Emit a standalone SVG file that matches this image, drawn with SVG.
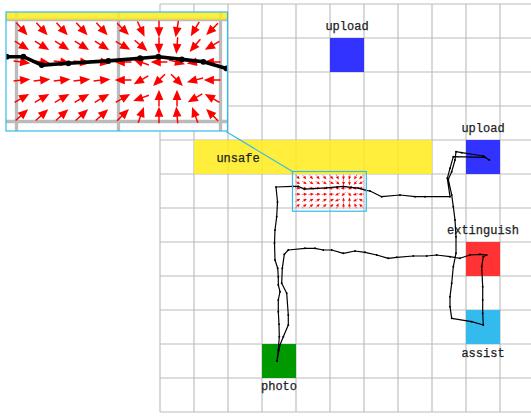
<svg xmlns="http://www.w3.org/2000/svg" xmlns:xlink="http://www.w3.org/1999/xlink" width="531" height="416" viewBox="0 0 531 416">
<style>
.grid{stroke:#bbbbbb;stroke-width:1.1;fill:none}
.lbl{font-family:"Liberation Mono","DejaVu Sans Mono",monospace;font-size:12px;fill:#222;stroke:#222;stroke-width:0.25;text-anchor:middle}
.traj{fill:none;stroke:#000;stroke-width:1.2;stroke-linejoin:round;marker-start:url(#dot);marker-mid:url(#dot);marker-end:url(#dot)}
.cy{fill:none;stroke:#33bbee;stroke-width:1.2}
</style>
<defs>
<marker id="dot" markerWidth="4" markerHeight="4" refX="2" refY="2" markerUnits="userSpaceOnUse"><circle cx="2" cy="2" r="0.95" fill="#000"/></marker>
<g id="a"><path d="M-2.8 0H0" stroke="#ff0000" stroke-width="0.5"/><polygon points="-0.6,-1.45 2.8,0 -0.6,1.45" fill="#ff0000"/></g>
<path id="gridp" class="grid" d="M160 4V412M194 4V412M228 4V412M262 4V412M296 4V412M330 4V412M364 4V412M398 4V412M432 4V412M466 4V412M500 4V412M160 4H531M160 38H531M160 72H531M160 106H531M160 140H531M160 174H531M160 208H531M160 242H531M160 276H531M160 310H531M160 344H531M160 378H531M160 412H531"/>
<rect id="yel" x="194" y="140" width="238" height="34" fill="#ffeb1a" fill-opacity="0.85"/>
<g id="field">
<use xlink:href="#a" transform="translate(297.8 177.2) rotate(48)"/>
<use xlink:href="#a" transform="translate(304.5 177.2) rotate(48)"/>
<use xlink:href="#a" transform="translate(311.2 177.2) rotate(48)"/>
<use xlink:href="#a" transform="translate(317.8 177.2) rotate(48)"/>
<use xlink:href="#a" transform="translate(324.5 177.2) rotate(48)"/>
<use xlink:href="#a" transform="translate(331.5 177.2) rotate(45)"/>
<use xlink:href="#a" transform="translate(337.5 177.2) rotate(65)"/>
<use xlink:href="#a" transform="translate(343.5 177.2) rotate(90)"/>
<use xlink:href="#a" transform="translate(349.5 177.2) rotate(100)"/>
<use xlink:href="#a" transform="translate(355.5 177.2) rotate(120)"/>
<use xlink:href="#a" transform="translate(361.2 177.2) rotate(135)"/>
<use xlink:href="#a" transform="translate(297.8 182.7) rotate(32)"/>
<use xlink:href="#a" transform="translate(304.5 182.7) rotate(32)"/>
<use xlink:href="#a" transform="translate(311.2 182.7) rotate(32)"/>
<use xlink:href="#a" transform="translate(317.8 182.7) rotate(32)"/>
<use xlink:href="#a" transform="translate(324.5 182.7) rotate(32)"/>
<use xlink:href="#a" transform="translate(331.5 182.7) rotate(30)"/>
<use xlink:href="#a" transform="translate(337.5 182.7) rotate(40)"/>
<use xlink:href="#a" transform="translate(343.5 182.7) rotate(90)"/>
<use xlink:href="#a" transform="translate(349.5 182.7) rotate(95)"/>
<use xlink:href="#a" transform="translate(355.5 182.7) rotate(130)"/>
<use xlink:href="#a" transform="translate(361.2 182.7) rotate(150)"/>
<use xlink:href="#a" transform="translate(297.8 188.2) rotate(8)"/>
<use xlink:href="#a" transform="translate(304.5 188.2) rotate(8)"/>
<use xlink:href="#a" transform="translate(311.2 188.2) rotate(8)"/>
<use xlink:href="#a" transform="translate(317.8 188.2) rotate(8)"/>
<use xlink:href="#a" transform="translate(324.5 188.2) rotate(8)"/>
<use xlink:href="#a" transform="translate(331.5 188.2) rotate(180)"/>
<use xlink:href="#a" transform="translate(337.5 188.2) rotate(200)"/>
<use xlink:href="#a" transform="translate(343.5 188.2) rotate(180)"/>
<use xlink:href="#a" transform="translate(349.5 188.2) rotate(15)"/>
<use xlink:href="#a" transform="translate(355.5 188.2) rotate(170)"/>
<use xlink:href="#a" transform="translate(361.2 188.2) rotate(180)"/>
<use xlink:href="#a" transform="translate(297.8 194.2) rotate(-6)"/>
<use xlink:href="#a" transform="translate(304.5 194.2) rotate(-6)"/>
<use xlink:href="#a" transform="translate(311.2 194.2) rotate(-6)"/>
<use xlink:href="#a" transform="translate(317.8 194.2) rotate(-6)"/>
<use xlink:href="#a" transform="translate(324.5 194.2) rotate(-6)"/>
<use xlink:href="#a" transform="translate(331.5 194.2) rotate(180)"/>
<use xlink:href="#a" transform="translate(337.5 194.2) rotate(150)"/>
<use xlink:href="#a" transform="translate(343.5 194.2) rotate(135)"/>
<use xlink:href="#a" transform="translate(349.5 194.2) rotate(45)"/>
<use xlink:href="#a" transform="translate(355.5 194.2) rotate(165)"/>
<use xlink:href="#a" transform="translate(361.2 194.2) rotate(180)"/>
<use xlink:href="#a" transform="translate(297.8 200.2) rotate(-30)"/>
<use xlink:href="#a" transform="translate(304.5 200.2) rotate(-30)"/>
<use xlink:href="#a" transform="translate(311.2 200.2) rotate(-30)"/>
<use xlink:href="#a" transform="translate(317.8 200.2) rotate(-30)"/>
<use xlink:href="#a" transform="translate(324.5 200.2) rotate(-30)"/>
<use xlink:href="#a" transform="translate(331.5 200.2) rotate(-30)"/>
<use xlink:href="#a" transform="translate(337.5 200.2) rotate(160)"/>
<use xlink:href="#a" transform="translate(343.5 200.2) rotate(-90)"/>
<use xlink:href="#a" transform="translate(349.5 200.2) rotate(-90)"/>
<use xlink:href="#a" transform="translate(355.5 200.2) rotate(150)"/>
<use xlink:href="#a" transform="translate(361.2 200.2) rotate(210)"/>
<use xlink:href="#a" transform="translate(297.8 205.8) rotate(-42)"/>
<use xlink:href="#a" transform="translate(304.5 205.8) rotate(-42)"/>
<use xlink:href="#a" transform="translate(311.2 205.8) rotate(-42)"/>
<use xlink:href="#a" transform="translate(317.8 205.8) rotate(-42)"/>
<use xlink:href="#a" transform="translate(324.5 205.8) rotate(-42)"/>
<use xlink:href="#a" transform="translate(331.5 205.8) rotate(-45)"/>
<use xlink:href="#a" transform="translate(337.5 205.8) rotate(-70)"/>
<use xlink:href="#a" transform="translate(343.5 205.8) rotate(-90)"/>
<use xlink:href="#a" transform="translate(349.5 205.8) rotate(-95)"/>
<use xlink:href="#a" transform="translate(355.5 205.8) rotate(-110)"/>
<use xlink:href="#a" transform="translate(361.2 205.8) rotate(-135)"/>
</g>
<path id="trajp" class="traj" d="M277 361 L278.3 350 L279.3 336.7 L279 324.3 L278.3 311.7 L278.3 300 L280 291.7 L278.3 285 L278.3 276.7 L277.7 268.3 L275 260 L274.5 243 L275 230 L276.7 216.7 L277.5 202 L276 187 L292.7 186.4 L298.3 186.4 L304.4 189.2 L313.3 188.6 L326.6 187.8 L337.2 186.9 L343.3 186.4 L351.1 187.3 L358.3 188.1 L366 190.3 L370 191 L381.7 196.7 L400 195 L415 196.7 L425 196.7 L450 196.7 L447.3 178.3 L450 168.3 L453.3 156.7 L485 157.3 L489.3 160 L483.3 156 L461.7 152.7 L456 151.7 L455 160 L451.7 171.7 L448.3 179.3 L451.7 195 L453.3 206.7 L455 220 L456 236.7 L456 253.3 L453.3 266.7 L451.7 283.3 L450 296.7 L450 306.7 L451.7 318.3 L471.7 321.7 L483.3 325 L482.7 313.3 L482.7 300 L482.7 286.7 L481.7 266.7 L483.3 256.7 L486.7 255 L480 254.3 L470 255 L460 258.3 L450 256.7 L436.7 255 L426.7 256 L413.3 256 L396.7 257.3 L388.3 258.3 L376.7 255 L365 252.3 L355 251 L343.3 253.3 L331.7 250 L323.3 250 L315 248.3 L305 248.3 L288.3 250 L284.3 254.3 L282.3 268.3 L281.7 283.3 L286.7 293.3 L288.3 315 L288.3 325 L283.3 336.7 L280 345 L277 361"/>
<g id="scene">
<use xlink:href="#gridp"/>
<use xlink:href="#yel"/>
<use xlink:href="#field"/>
<use xlink:href="#trajp"/>
</g>
<clipPath id="ic"><rect x="6" y="12" width="221.5" height="119"/></clipPath>
</defs>
<rect x="0" y="0" width="531" height="416" fill="#fff"/>
<use xlink:href="#gridp"/>
<g id="unsafe">
<use xlink:href="#yel"/>
<text class="lbl" x="238" y="162">unsafe</text>
</g>
<g id="upload1">
<rect x="330" y="38" width="34" height="34" fill="#3333ff"/>
<text class="lbl" x="347" y="30">upload</text>
</g>
<g id="upload2">
<rect x="466" y="140" width="34" height="34" fill="#3333ff"/>
<text class="lbl" x="483" y="132">upload</text>
</g>
<g id="extinguish">
<rect x="466" y="242" width="34" height="34" fill="#ff3333"/>
<text class="lbl" x="483" y="234">extinguish</text>
</g>
<g id="assist">
<rect x="466" y="310" width="34" height="34" fill="#33bbee"/>
<text class="lbl" x="483" y="357">assist</text>
</g>
<g id="photo">
<rect x="262" y="344" width="34" height="34" fill="#009900"/>
<text class="lbl" x="279" y="390">photo</text>
</g>
<use xlink:href="#field"/>
<g id="connectors">
<use xlink:href="#trajp"/>
<line class="cy" x1="226" y1="131.5" x2="292.5" y2="171.5"/>
</g>
<rect class="cy" x="292.5" y="171.5" width="73.8" height="39.7"/>
<g id="inset">
<g clip-path="url(#ic)">
<rect x="6" y="12" width="221.5" height="119" fill="#fff"/>
<use xlink:href="#scene" transform="translate(6 12) scale(3) translate(-292.5 -171.5)"/>
</g>
<rect class="cy" x="6" y="12" width="221.5" height="119"/>
</g>
</svg>
